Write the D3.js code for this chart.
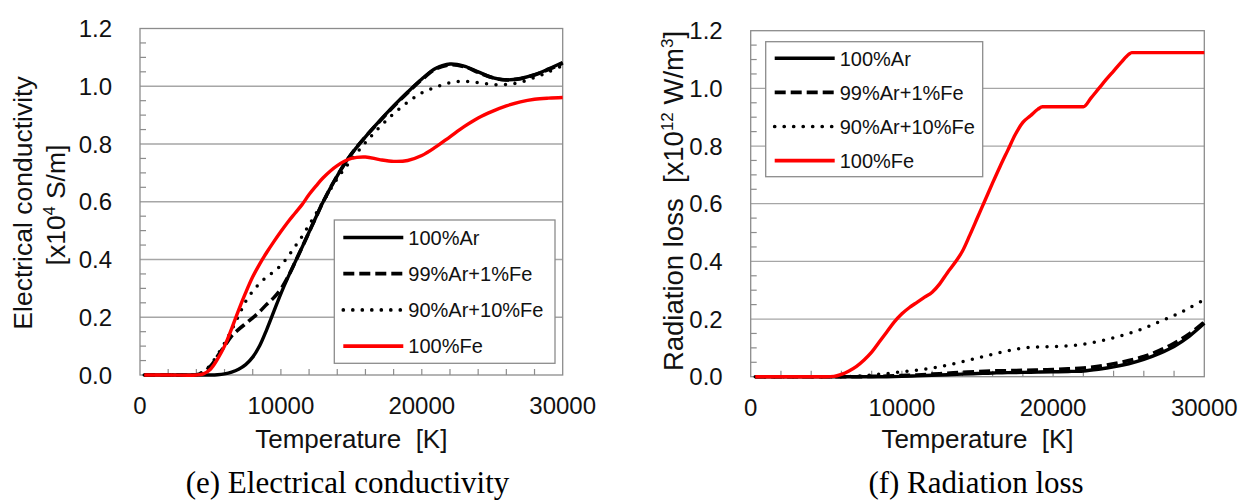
<!DOCTYPE html>
<html>
<head>
<meta charset="utf-8">
<script src="https://cdn.jsdelivr.net/npm/d3@7"></script>
<style>
  body { margin: 0; background: #fff; }
  svg { display: block; }
</style>
</head>
<body>
<svg id="chart" width="1242" height="502"></svg>
<script>
// ---- data -------------------------------------------------------------
const seriesNames = ["100%Ar", "99%Ar+1%Fe", "90%Ar+10%Fe", "100%Fe"];

// Electrical conductivity [x10^4 S/m] vs temperature [K]
const condTemp = [300, 2000, 4000, 4500, 5000, 5500, 6000, 6500, 7000, 7500, 8000, 8500, 9000, 9500,
  10000, 10500, 11000, 11500, 12000, 12500, 13000, 14000, 15000, 16000, 17000, 18000, 19000, 20000,
  21000, 22000, 23000, 24000, 25000, 26000, 27000, 28000, 29000, 30000];
const condAr = [0, 0, 0, 0, 0, 0.001, 0.004, 0.01, 0.02, 0.036, 0.062, 0.102, 0.158, 0.22,
  0.282, 0.338, 0.39, 0.442, 0.495, 0.548, 0.6, 0.69, 0.765, 0.825, 0.88, 0.932, 0.98, 1.025,
  1.062, 1.077, 1.07, 1.05, 1.03, 1.022, 1.027, 1.04, 1.06, 1.082];
const condAr99Fe1 = [0, 0, 0.001, 0.01, 0.03, 0.065, 0.1, 0.135, 0.158, 0.178, 0.198, 0.22, 0.245, 0.268,
  0.298, 0.34, 0.39, 0.442, 0.495, 0.548, 0.6, 0.69, 0.765, 0.825, 0.878, 0.93, 0.978, 1.023,
  1.06, 1.074, 1.068, 1.048, 1.03, 1.022, 1.026, 1.039, 1.058, 1.08];
const condAr90Fe10 = [0, 0, 0.002, 0.012, 0.035, 0.07, 0.11, 0.155, 0.205, 0.255, 0.29, 0.318, 0.34, 0.358,
  0.38, 0.41, 0.445, 0.48, 0.52, 0.56, 0.6, 0.68, 0.745, 0.805, 0.858, 0.905, 0.945, 0.977,
  0.997, 1.012, 1.017, 1.013, 1.006, 1.006, 1.014, 1.03, 1.05, 1.072];
const condFe = [0, 0, 0, 0.004, 0.02, 0.055, 0.1, 0.16, 0.225, 0.285, 0.34, 0.385, 0.425, 0.462,
  0.497, 0.53, 0.56, 0.59, 0.625, 0.655, 0.683, 0.725, 0.75, 0.755, 0.746, 0.74, 0.743, 0.76,
  0.79, 0.825, 0.86, 0.89, 0.913, 0.932, 0.946, 0.955, 0.959, 0.961];

// Radiation loss [x10^12 W/m^3] vs temperature [K]
const radTemp = [300, 2000, 4000, 6000, 7000, 8000, 9000, 10000, 11000, 12000, 13000, 14000, 15000,
  16000, 17000, 18000, 19000, 20000, 21000, 22000, 23000, 24000, 25000, 26000, 27000, 28000, 29000, 30000];
const radAr = [0, 0, 0, 0, 0, 0, 0, 0.001, 0.003, 0.005, 0.007, 0.009, 0.011,
  0.013, 0.014, 0.015, 0.016, 0.017, 0.018, 0.02, 0.026, 0.034, 0.045, 0.06, 0.08, 0.105, 0.14, 0.185];
const radAr99Fe1 = [0, 0, 0, 0, 0, 0.001, 0.002, 0.004, 0.006, 0.009, 0.012, 0.015, 0.018,
  0.02, 0.021, 0.022, 0.023, 0.025, 0.027, 0.03, 0.036, 0.045, 0.056, 0.07, 0.09, 0.116, 0.148, 0.19];
const radAr90Fe10 = [0, 0, 0, 0, 0.002, 0.006, 0.011, 0.017, 0.023, 0.03, 0.04, 0.052, 0.065,
  0.078, 0.09, 0.099, 0.103, 0.104, 0.107, 0.113, 0.122, 0.135, 0.15, 0.168, 0.19, 0.212, 0.238, 0.268];
const radTempFe = [300, 2000, 4000, 5000, 5500, 6000, 6500, 7000, 7500, 8000, 8500, 9000, 9500, 10000,
  10500, 11000, 11500, 12000, 12500, 13000, 13500, 14000, 14500, 15000, 15500, 16000, 16500, 17000,
  17500, 18000, 18500, 19000, 19300, 20000, 21000, 22000, 22500, 23000, 23500, 24000, 24500, 25000,
  25200, 26000, 27000, 28000, 29000, 30000];
const radFe = [0, 0, 0, 0, 0.001, 0.008, 0.02, 0.036, 0.058, 0.085, 0.12, 0.155, 0.19, 0.218,
  0.24, 0.258, 0.276, 0.293, 0.322, 0.36, 0.395, 0.435, 0.492, 0.552, 0.612, 0.672, 0.73, 0.785,
  0.84, 0.882, 0.905, 0.928, 0.936, 0.936, 0.936, 0.936, 0.966, 0.998, 1.03, 1.06, 1.09, 1.118,
  1.124, 1.124, 1.124, 1.124, 1.124, 1.124];

const xTickValues = [0, 10000, 20000, 30000];
const yTickValues = [0, 0.2, 0.4, 0.6, 0.8, 1.0, 1.2];

// ---- drawing ----------------------------------------------------------
const svg = d3.select("#chart");
const sans = "'Liberation Sans', Arial, sans-serif";
const serif = "'Liberation Serif', 'Times New Roman', serif";
const frameColor = "#8c8c8c";
const gridColor = "#a6a6a6";

const lineStyles = [
  { color: "#000", width: 3.4, dash: null, cap: "butt" },
  { color: "#000", width: 3.6, dash: "11,5", cap: "butt" },
  { color: "#000", width: 3.5, dash: "0,9.5", cap: "round" },
  { color: "#ff0000", width: 3.4, dash: null, cap: "butt" }
];

function drawPanel(cfg) {
  const x = d3.scaleLinear().domain([0, 30000]).range([cfg.left, cfg.right]);
  const y = d3.scaleLinear().domain([0, 1.2]).range([cfg.bottom, cfg.top]);
  const g = svg.append("g");

  // horizontal gridlines
  g.selectAll(".grid").data(yTickValues.slice(1, -1)).join("line")
    .attr("x1", cfg.left).attr("x2", cfg.right)
    .attr("y1", d => y(d)).attr("y2", d => y(d))
    .attr("stroke", gridColor).attr("stroke-width", 1.3);

  // minor ticks
  const yMinor = d3.range(0.05, 1.2, 0.05).filter(v => Math.abs(v * 5 - Math.round(v * 5)) > 1e-6);
  g.selectAll(".ymin").data(yMinor).join("line")
    .attr("x1", cfg.left).attr("x2", cfg.left + 6)
    .attr("y1", d => y(d)).attr("y2", d => y(d))
    .attr("stroke", frameColor).attr("stroke-width", 1.2);
  g.selectAll(".xmin").data(d3.range(2000, 30000, 2000)).join("line")
    .attr("x1", d => x(d)).attr("x2", d => x(d))
    .attr("y1", cfg.bottom).attr("y2", cfg.bottom - 6)
    .attr("stroke", frameColor).attr("stroke-width", 1.2);

  // frame
  g.append("rect")
    .attr("x", cfg.left).attr("y", cfg.top)
    .attr("width", cfg.right - cfg.left).attr("height", cfg.bottom - cfg.top)
    .attr("fill", "none").attr("stroke", frameColor).attr("stroke-width", 1.3);

  // tick labels
  g.selectAll(".ylab").data(yTickValues).join("text")
    .attr("x", cfg.left - 28).attr("y", d => y(d))
    .attr("dy", "0.36em").attr("text-anchor", "end")
    .attr("font-family", sans).attr("font-size", 24).attr("fill", "#111")
    .text(d => d3.format(".1f")(d));
  g.selectAll(".xlab").data(xTickValues).join("text")
    .attr("x", d => x(d)).attr("y", cfg.bottom + 39)
    .attr("text-anchor", "middle")
    .attr("font-family", sans).attr("font-size", 24).attr("fill", "#111")
    .text(d => d);

  // series
  cfg.series.forEach((s, i) => {
    const st = lineStyles[i];
    const line = d3.line().x(d => x(d[0])).y(d => y(d[1])).curve(s.curve);
    g.append("path")
      .datum(d3.zip(s.t, s.v))
      .attr("d", line)
      .attr("fill", "none")
      .attr("stroke", st.color)
      .attr("stroke-width", st.width)
      .attr("stroke-linecap", st.cap)
      .attr("stroke-linejoin", "round")
      .attr("stroke-dasharray", st.dash);
  });

  // legend
  const L = cfg.legend;
  const lg = g.append("g");
  lg.append("rect")
    .attr("x", L.x).attr("y", L.y).attr("width", L.w).attr("height", L.h)
    .attr("fill", "#fff").attr("stroke", frameColor).attr("stroke-width", 1.3);
  seriesNames.forEach((name, i) => {
    const st = lineStyles[i];
    const yy = L.y + L.first + i * L.step;
    lg.append("line")
      .attr("x1", L.x + 9).attr("x2", L.x + 69)
      .attr("y1", yy).attr("y2", yy)
      .attr("stroke", st.color).attr("stroke-width", st.width + 0.2)
      .attr("stroke-linecap", st.cap)
      .attr("stroke-dasharray", st.dash);
    lg.append("text")
      .attr("x", L.x + 74).attr("y", yy).attr("dy", "0.36em")
      .attr("font-family", sans).attr("font-size", 20).attr("fill", "#111")
      .text(name);
  });

  // x title
  g.append("text")
    .attr("x", (cfg.left + cfg.right) / 2).attr("y", 448)
    .attr("text-anchor", "middle")
    .attr("font-family", sans).attr("font-size", 26).attr("fill", "#111")
    .attr("xml:space", "preserve")
    .text("Temperature  [K]");

  // caption
  g.append("text")
    .attr("x", cfg.captionX).attr("y", 493)
    .attr("text-anchor", "middle")
    .attr("font-family", serif).attr("font-size", 31).attr("fill", "#000")
    .text(cfg.caption);

  return g;
}

const smooth = d3.curveCatmullRom.alpha(0.5);

// (e) electrical conductivity
const gE = drawPanel({
  left: 140, right: 562.7, top: 28.5, bottom: 375,
  series: [
    { t: condTemp, v: condAr, curve: smooth },
    { t: condTemp, v: condAr99Fe1, curve: smooth },
    { t: condTemp, v: condAr90Fe10, curve: smooth },
    { t: condTemp, v: condFe, curve: smooth }
  ],
  legend: { x: 334.3, y: 220, w: 220.7, h: 143.3, first: 17.5, step: 36.2 },
  caption: "(e) Electrical conductivity", captionX: 347.5
});

gE.append("text")
  .attr("transform", "translate(32,203) rotate(-90)")
  .attr("text-anchor", "middle")
  .attr("font-family", sans).attr("font-size", 26.5).attr("fill", "#111")
  .text("Electrical conductivity");
const yTitleE2 = gE.append("text")
  .attr("transform", "translate(65,205) rotate(-90)")
  .attr("text-anchor", "middle")
  .attr("font-family", sans).attr("font-size", 26.5).attr("fill", "#111");
yTitleE2.append("tspan").text("[x10");
yTitleE2.append("tspan").attr("dy", -10).attr("font-size", 16).text("4");
yTitleE2.append("tspan").attr("dy", 10).text(" S/m]");

// (f) radiation loss
const gF = drawPanel({
  left: 750.7, right: 1204.3, top: 30.7, bottom: 376.7,
  series: [
    { t: radTemp, v: radAr, curve: smooth },
    { t: radTemp, v: radAr99Fe1, curve: smooth },
    { t: radTemp, v: radAr90Fe10, curve: smooth },
    { t: radTempFe, v: radFe, curve: d3.curveMonotoneX }
  ],
  legend: { x: 765.7, y: 41.7, w: 217, h: 135, first: 16.6, step: 34.1 },
  caption: "(f) Radiation loss", captionX: 976
});

const yTitleF = gF.append("text")
  .attr("transform", "translate(683,201) rotate(-90)")
  .attr("text-anchor", "middle")
  .attr("font-family", sans).attr("font-size", 27.5).attr("fill", "#111")
  .attr("xml:space", "preserve");
yTitleF.append("tspan").text("Radiation loss  [x10");
yTitleF.append("tspan").attr("dy", -10).attr("font-size", 17).text("12");
yTitleF.append("tspan").attr("dy", 10).text(" W/m");
yTitleF.append("tspan").attr("dy", -10).attr("font-size", 17).text("3");
yTitleF.append("tspan").attr("dy", 10).text("]");
</script>
</body>
</html>
